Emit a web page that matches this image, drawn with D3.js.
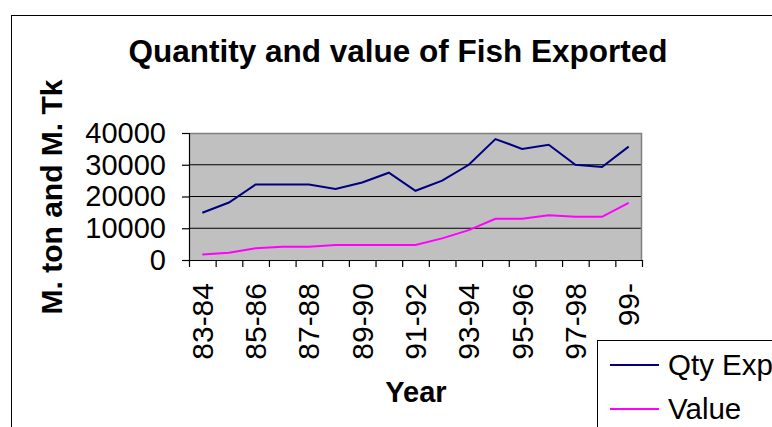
<!DOCTYPE html>
<html>
<head>
<meta charset="utf-8">
<script src="https://cdn.jsdelivr.net/npm/d3@7"></script>
<style>
  body { margin: 0; background: #fff; }
  svg { display: block; font-family: Arial, "Liberation Sans", sans-serif; }
</style>
</head>
<body>
<svg width="772" height="427"></svg>
<script>
const years = ['83-84','84-85','85-86','86-87','87-88','88-89','89-90','90-91','91-92',
               '92-93','93-94','94-95','95-96','96-97','97-98','98-99','99-'];
const qtyExp = [14900, 18100, 23800, 23800, 23800, 22400, 24400, 27500, 21800,
                25000, 30000, 38100, 35000, 36300, 30000, 29300, 35700];
const value = [1700, 2300, 3700, 4200, 4200, 4700, 4700, 4700, 4700,
               6800, 9400, 13000, 13000, 14100, 13600, 13600, 18000];
const yTicks = [0, 10000, 20000, 30000, 40000];
const seriesNames = ['Qty Exp', 'Value'];
const seriesColors = ['#000080', '#ff00ff'];

const svg = d3.select('svg');
const margin = { left: 189, top: 133 };
const innerWidth = 453;
const innerHeight = 127;

// outer chart frame
svg.append('rect')
  .attr('x', 11.5).attr('y', 15.5)
  .attr('width', 800).attr('height', 500)
  .attr('fill', 'none').attr('stroke', '#000');

svg.append('text')
  .attr('x', 398).attr('y', 62)
  .attr('text-anchor', 'middle')
  .attr('font-size', 31.5).attr('font-weight', 'bold')
  .text('Quantity and value of Fish Exported');

const g = svg.append('g')
  .attr('transform', `translate(${margin.left}, ${margin.top})`);

const xEdge = d3.scaleLinear().domain([0, years.length]).range([0, innerWidth]);
const xScale = i => xEdge(i + 0.5);
const yScale = d3.scaleLinear().domain([0, 40000]).range([innerHeight, 0]);

g.append('rect')
  .attr('width', innerWidth).attr('height', innerHeight)
  .attr('fill', '#c0c0c0');

// gridlines
g.selectAll('.grid').data(yTicks.slice(1, -1))
  .enter().append('line')
    .attr('x1', 0).attr('x2', innerWidth)
    .attr('y1', d => yScale(d)).attr('y2', d => yScale(d))
    .attr('stroke', '#000').attr('stroke-width', 1.2);

// top/right frame in grey
g.append('path')
  .attr('d', `M0,0.5H${innerWidth - 0.5}V${innerHeight}`)
  .attr('fill', 'none').attr('stroke', '#808080').attr('stroke-width', 1.5);

// y axis
const yAxis = d3.axisLeft(yScale)
  .tickValues(yTicks)
  .tickFormat(d3.format('d'))
  .tickSize(7).tickPadding(16);
const yAxisG = g.append('g').call(yAxis);
yAxisG.selectAll('line, path').attr('stroke', '#000').attr('stroke-width', 1.2);
yAxisG.selectAll('text')
  .attr('font-size', 29).attr('font-family', 'Arial, "Liberation Sans", sans-serif')
  .attr('fill', '#000');

// x axis: tick marks on category edges
const xAxis = d3.axisBottom(xEdge)
  .tickValues(d3.range(years.length + 1))
  .tickFormat('')
  .tickSize(7).tickSizeOuter(0);
const xAxisG = g.append('g').call(xAxis)
  .attr('transform', `translate(0, ${innerHeight})`);
xAxisG.selectAll('line, path').attr('stroke', '#000').attr('stroke-width', 1.2);

// x labels (every other category), rotated
g.selectAll('.xlabel').data(years.filter((d, i) => i % 2 === 0))
  .enter().append('text')
    .attr('transform', d => `translate(${xScale(years.indexOf(d)) + 10.5}, ${innerHeight + 23}) rotate(-90)`)
    .attr('text-anchor', 'end')
    .attr('font-size', 30)
    .text(d => d);

// lines
const series = [qtyExp, value];
const line = d3.line().x((d, i) => xScale(i)).y(d => yScale(d));
g.selectAll('.series').data(series)
  .enter().append('path')
    .attr('d', line)
    .attr('fill', 'none')
    .attr('stroke', (d, i) => seriesColors[i])
    .attr('stroke-width', 2);

// axis titles
svg.append('text')
  .attr('transform', 'translate(62, 197) rotate(-90)')
  .attr('text-anchor', 'middle')
  .attr('font-size', 30).attr('font-weight', 'bold')
  .text('M. ton and M. Tk');

svg.append('text')
  .attr('x', 416).attr('y', 402)
  .attr('text-anchor', 'middle')
  .attr('font-size', 29).attr('font-weight', 'bold')
  .text('Year');

// legend
const legend = svg.append('g').attr('transform', 'translate(597, 340)');
legend.append('rect')
  .attr('x', 0.5).attr('y', 0.5).attr('width', 300).attr('height', 200)
  .attr('fill', '#fff').attr('stroke', '#000');
const items = legend.selectAll('.item').data(seriesNames)
  .enter().append('g')
    .attr('transform', (d, i) => `translate(0, ${25 + i * 44})`);
items.append('line')
  .attr('x1', 13).attr('x2', 62)
  .attr('stroke', (d, i) => seriesColors[i]).attr('stroke-width', 2);
items.append('text')
  .attr('x', 71).attr('dy', '0.35em')
  .attr('font-size', 29.5)
  .text(d => d);
</script>
</body>
</html>
